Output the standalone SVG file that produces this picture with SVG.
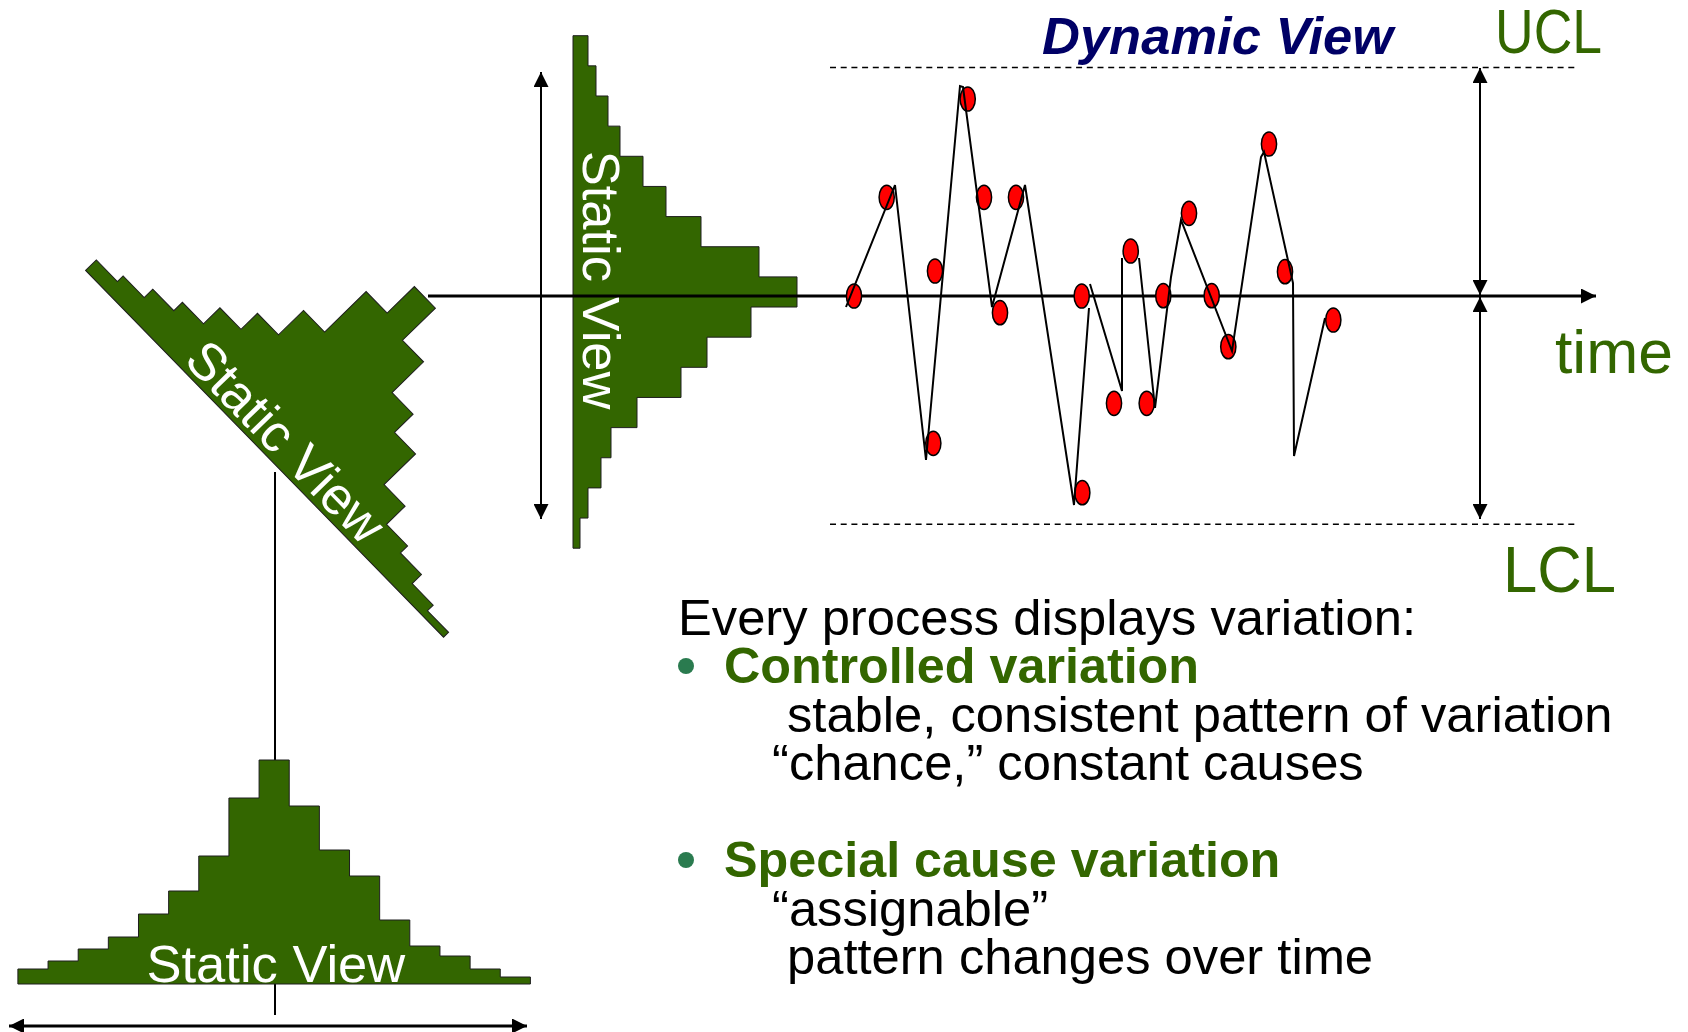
<svg xmlns="http://www.w3.org/2000/svg" xmlns:xlink="http://www.w3.org/1999/xlink" width="1688" height="1032" viewBox="0 0 1688 1032">
  <style>
    .hist { fill: #336600; stroke: #1e1e1e; stroke-width: 1; }
    .hlabel { font-family: "Liberation Sans", Arial, sans-serif; font-size: 52.5px; fill: #ffffff; }
    .green { font-family: "Liberation Sans", Arial, sans-serif; fill: #336600; }
    .body { font-family: "Liberation Sans", Arial, sans-serif; font-size: 50.7px; fill: #000000; }
    .head { font-family: "Liberation Sans", Arial, sans-serif; font-size: 50.3px; font-weight: bold; fill: #336600; }
    .bullet { fill: #2a7b4f; }
    .arrow { stroke: #000; fill: none; }
    .limit { stroke: #000; stroke-width: 1.5; stroke-dasharray: 6 4.7; fill: none; }
    .trace { stroke: #000; stroke-width: 2; fill: none; stroke-linejoin: miter; }
    .pt { fill: #ff0000; stroke: #000; stroke-width: 1.5; }
  </style>
  <defs>
    <!-- one histogram: baseline along +x (17 bins), bars rising toward -y -->
    <path id="histShape" d="M0,0 V-15 H30.15 V-23 H60.29 V-35 H90.44 V-47 H120.59 V-70 H150.74 V-93 H180.88 V-128 H211.03 V-186 H241.18 V-224 H271.32 V-178 H301.47 V-134 H331.62 V-108 H361.76 V-64 H391.91 V-38 H422.06 V-28 H452.21 V-15 H482.35 V-7 H512.5 V0 Z"/>
    <marker id="head" viewBox="0 0 15 15" refX="15" refY="7.5" markerWidth="15" markerHeight="15" markerUnits="userSpaceOnUse" orient="auto-start-reverse">
      <path d="M0,0 L15,7.5 L0,15 Z" fill="#000"/>
    </marker>
  </defs>

  <rect width="1688" height="1032" fill="#ffffff"/>

  <!-- spread reference line under the bottom histogram -->
  <g id="connectors-back">
    <line x1="275" y1="472" x2="275" y2="1015" stroke="#000" stroke-width="2"/>
  </g>

  <g id="hist-diagonal" transform="translate(85.6,270.4) rotate(45.7)">
    <use xlink:href="#histShape" class="hist"/>
    <text class="hlabel" x="133" y="-5.5">Static View</text>
  </g>

  <g id="hist-vertical" transform="translate(573,35.7) rotate(90)">
    <use xlink:href="#histShape" class="hist"/>
    <text class="hlabel" x="115" y="-10">Static View</text>
  </g>

  <g id="hist-bottom" transform="translate(17.9,984)">
    <use xlink:href="#histShape" class="hist"/>
    <text class="hlabel" x="128.6" y="-2">Static View</text>
  </g>

  <g id="connectors">
    <!-- time axis -->
    <line class="arrow" x1="428" y1="296" x2="1596" y2="296" stroke-width="3" marker-end="url(#head)"/>
    <!-- spread arrows -->
    <line class="arrow" x1="541" y1="72" x2="541" y2="519" stroke-width="2" marker-start="url(#head)" marker-end="url(#head)"/>
    <line class="arrow" x1="9" y1="1026" x2="527" y2="1026" stroke-width="3" marker-start="url(#head)" marker-end="url(#head)"/>
    <line class="arrow" x1="1480" y1="68" x2="1480" y2="295" stroke-width="2" marker-start="url(#head)" marker-end="url(#head)"/>
    <line class="arrow" x1="1480" y1="297" x2="1480" y2="519" stroke-width="2" marker-start="url(#head)" marker-end="url(#head)"/>
    <!-- control limits -->
    <line class="limit" x1="830" y1="67.5" x2="1578" y2="67.5"/>
    <line class="limit" x1="830" y1="524.3" x2="1578" y2="524.3"/>
  </g>

  <g id="run-chart">
    <g id="points">
      <ellipse class="pt" cx="854" cy="296" rx="7.6" ry="12.1"/>
      <ellipse class="pt" cx="886.7" cy="197.3" rx="7.6" ry="12.1"/>
      <ellipse class="pt" cx="967.7" cy="99" rx="7.6" ry="12.1"/>
      <ellipse class="pt" cx="935" cy="271" rx="7.6" ry="12.1"/>
      <ellipse class="pt" cx="933.3" cy="443.3" rx="7.6" ry="12.1"/>
      <ellipse class="pt" cx="984" cy="197.3" rx="7.6" ry="12.1"/>
      <ellipse class="pt" cx="1016" cy="197.3" rx="7.6" ry="12.1"/>
      <ellipse class="pt" cx="1000" cy="312.7" rx="7.6" ry="12.1"/>
      <ellipse class="pt" cx="1081.7" cy="296" rx="7.6" ry="12.1"/>
      <ellipse class="pt" cx="1082.3" cy="492.7" rx="7.6" ry="12.1"/>
      <ellipse class="pt" cx="1114" cy="403.3" rx="7.6" ry="12.1"/>
      <ellipse class="pt" cx="1130.7" cy="251" rx="7.6" ry="12.1"/>
      <ellipse class="pt" cx="1146.7" cy="403.3" rx="7.6" ry="12.1"/>
      <ellipse class="pt" cx="1163.3" cy="295.7" rx="7.6" ry="12.1"/>
      <ellipse class="pt" cx="1189" cy="213.3" rx="7.6" ry="12.1"/>
      <ellipse class="pt" cx="1211.7" cy="295.7" rx="7.6" ry="12.1"/>
      <ellipse class="pt" cx="1228.3" cy="346.7" rx="7.6" ry="12.1"/>
      <ellipse class="pt" cx="1269" cy="144" rx="7.6" ry="12.1"/>
      <ellipse class="pt" cx="1285" cy="271.7" rx="7.6" ry="12.1"/>
      <ellipse class="pt" cx="1333.3" cy="320" rx="7.6" ry="12.1"/>
    </g>
    <path id="trace" class="trace" d="M846,307 L895,185 L926,460 L960,86 L963,87 L992,307 L1025,185 L1074,505 L1089,308 M1090,284 L1122,391 L1122,258 M1139,258 L1155,408 L1171,277 L1181,220 L1232,351 L1261,157 L1264,152 L1293,283 L1294,456 L1325,318"/>
  </g>

  <g id="label-dynamic">
    <text x="1042" y="53.6" font-family="'Liberation Sans', Arial, sans-serif" font-size="52.5" font-weight="bold" font-style="italic" fill="#000066">Dynamic View</text>
  </g>
  <g id="label-ucl">
    <text class="green" x="1495" y="53.3" font-size="63" textLength="107" lengthAdjust="spacingAndGlyphs">UCL</text>
  </g>
  <g id="label-lcl">
    <text class="green" x="1503" y="591.7" font-size="65" textLength="113" lengthAdjust="spacingAndGlyphs">LCL</text>
  </g>
  <g id="label-time">
    <text class="green" x="1555" y="373" font-size="62" textLength="118" lengthAdjust="spacingAndGlyphs">time</text>
  </g>

  <g id="notes">
    <text class="body" x="678" y="635">Every process displays variation:</text>
    <circle class="bullet" cx="686" cy="666" r="8"/>
    <text class="head" x="724" y="683">Controlled variation</text>
    <text class="body" x="787" y="732">stable, consistent pattern of variation</text>
    <text class="body" x="772" y="780">“chance,” constant causes</text>
    <circle class="bullet" cx="686" cy="860" r="8"/>
    <text class="head" x="724" y="877">Special cause variation</text>
    <text class="body" x="772" y="926">“assignable”</text>
    <text class="body" x="787" y="974">pattern changes over time</text>
  </g>
</svg>
